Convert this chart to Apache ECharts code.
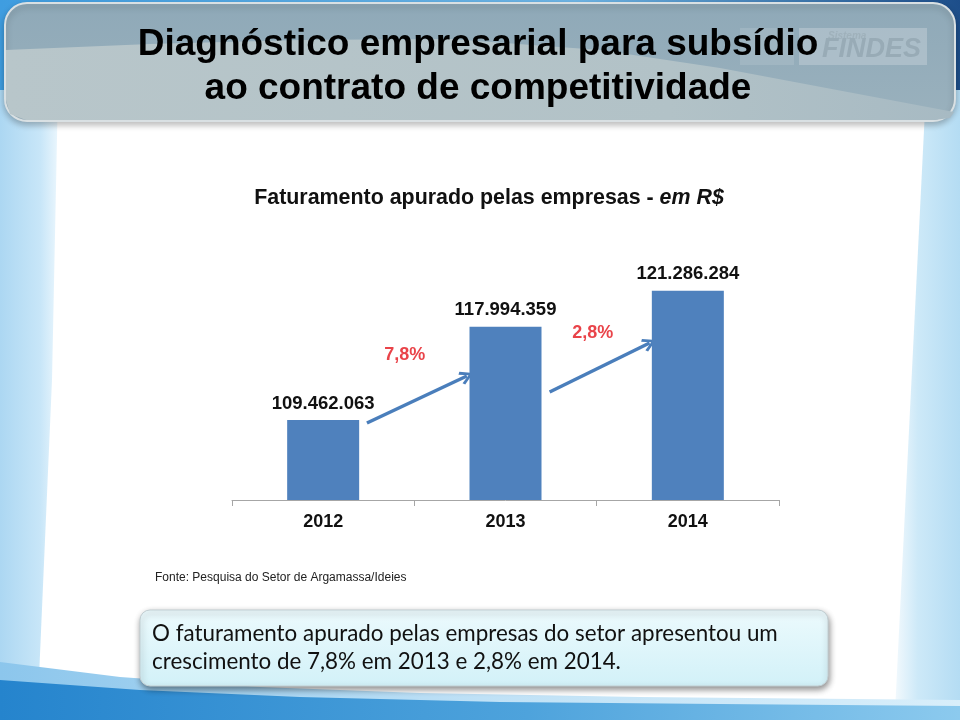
<!DOCTYPE html>
<html>
<head>
<meta charset="utf-8">
<script src="https://cdn.jsdelivr.net/npm/echarts@6/dist/echarts.min.js"></script>
<style>
html,body{margin:0;padding:0;background:#fff;}
#main{width:960px;height:720px;}
</style>
</head>
<body>
<div id="main"></div>
<script>
// ---- data ----
const categories = ['2012', '2013', '2014'];
const revenue = [109462063, 117994359, 121286284];
const growthLabels = ['7,8%', '2,8%'];
// annotation arrows (x in category units, y in R$)
const arrowStarts = [[0.24, 109180000], [1.242, 112020000]];
const arrowEnds = [[0.788, 113490000], [1.79, 116510000]];
const growthLabelPos = [[0.448, 115410000], [1.478, 117420000]];
const yMin = 102130000;
const yMax = 124110000;

const titleText = 'Diagnóstico empresarial para subsídio\nao contrato de competitividade';
const subtitleBold = 'Faturamento apurado pelas empresas - ';
const subtitleItalic = 'em R$';
const sourceText = 'Fonte: Pesquisa do Setor de Argamassa/Ideies';
const noteLines = ['O faturamento apurado pelas empresas do setor apresentou um',
                   'crescimento de 7,8% em 2013 e 2,8% em 2014.'];

function fmt(v) { return String(v).replace(/\B(?=(\d{3})+(?!\d))/g, '.'); }

const chart = echarts.init(document.getElementById('main'), null, {renderer: 'canvas'});

const LG = (x, y, x2, y2, stops) => new echarts.graphic.LinearGradient(x, y, x2, y2, stops);

const graphics = [
  // base
  {type: 'rect', z: -100, silent: true, shape: {x: 0, y: 0, width: 960, height: 720}, style: {fill: '#ffffff'}},
  // top band behind title
  {type: 'rect', z: -99, silent: true, shape: {x: 0, y: 0, width: 960, height: 100},
    style: {fill: LG(0, 0, 1, 0, [{offset: 0, color: '#3f9de0'}, {offset: 0.6, color: '#6fb6e6'}, {offset: 1, color: '#1d4e8a'}])}},
  // left strip
  {type: 'polygon', z: -98, silent: true, shape: {points: [[0, 90], [58, 90], [52, 380], [38, 700], [0, 700]]},
    style: {fill: LG(0, 0, 1, 0, [{offset: 0, color: '#acd7f2'}, {offset: 0.7, color: '#c8e6f8'}, {offset: 1, color: '#eaf6fd'}])}},
  // right strip
  {type: 'polygon', z: -98, silent: true, shape: {points: [[926, 90], [960, 90], [960, 712], [895, 712], [908, 450]]},
    style: {fill: LG(0, 0, 1, 0, [{offset: 0, color: '#f2f9fd'}, {offset: 0.35, color: '#cde9f8'}, {offset: 1, color: '#b4dcf3'}])}},
  // bottom light wave
  {type: 'polygon', z: -97, silent: true,
    shape: {points: [[0, 662], [120, 677], [260, 687], [420, 693], [640, 697], [960, 700], [960, 720], [0, 720]]},
    style: {fill: LG(0, 0, 1, 0, [{offset: 0, color: '#8cc6ec'}, {offset: 0.5, color: '#bfe1f6'}, {offset: 1, color: '#d8eefa'}])}},
  // bottom dark wave
  {type: 'polygon', z: -96, silent: true,
    shape: {points: [[0, 680], [140, 690], [300, 697], [500, 702], [720, 704], [960, 706], [960, 720], [0, 720]]},
    style: {fill: LG(0, 0, 1, 0, [{offset: 0, color: '#2584cd'}, {offset: 0.55, color: '#4ea3dc'}, {offset: 1, color: '#8ccaee'}])}},
  // title box
  {type: 'rect', z: -90, silent: true, shape: {x: 5, y: 3, width: 950, height: 118, r: 22},
    style: {fill: LG(0, 0, 0, 1, [{offset: 0, color: '#8fa9b8'}, {offset: 1, color: '#9ab1bd'}]),
      stroke: '#d9e0e3', lineWidth: 2, shadowBlur: 6, shadowOffsetY: 3, shadowColor: 'rgba(0,0,0,0.25)'}},
  // light swoosh inside title box
  {type: 'polygon', z: -89, silent: true,
    shape: {points: [[6, 50], [150, 44], [300, 40], [450, 39], [600, 50], [720, 68], [954, 112], [950, 118], [934, 120], [26, 120], [10, 114], [6, 100]]},
    style: {fill: LG(0, 0, 1, 0, [{offset: 0, color: '#b8c6ca'}, {offset: 0.7, color: '#b2c2c7'}, {offset: 1, color: '#a7bac3'}])}},
  // logo blocks
  {type: 'rect', z: -88, silent: true, shape: {x: 740, y: 28, width: 54, height: 37}, style: {fill: 'rgba(190,205,212,0.3)'}},
  {type: 'rect', z: -88, silent: true, shape: {x: 799, y: 28, width: 128, height: 37}, style: {fill: 'rgba(195,208,215,0.5)'}},
  {type: 'text', z: -87, silent: true, style: {x: 828, y: 36, text: 'Sistema', fill: '#9fb1bb', font: 'italic bold 10px "Liberation Sans"', textVerticalAlign: 'middle'}},
  {type: 'text', z: -87, silent: true, style: {x: 822, y: 50, text: 'FINDES', fill: '#98abb6', font: 'italic bold 27px "Liberation Sans"', textVerticalAlign: 'middle'}},
  // note box
  {type: 'rect', z: 10, silent: true, shape: {x: 140, y: 610, width: 688, height: 76, r: 10},
    style: {fill: LG(0, 0, 0, 1, [{offset: 0, color: '#ecfafd'}, {offset: 1, color: '#d2f1f8'}]),
      stroke: '#c2cfd3', lineWidth: 1, shadowBlur: 6, shadowOffsetX: 1, shadowOffsetY: 3, shadowColor: 'rgba(0,0,0,0.45)'}},
  {type: 'text', z: 11, silent: true, style: {x: 152, y: 634, text: noteLines[0], fill: '#111', font: '22.4px Lato', textVerticalAlign: 'middle'}},
  {type: 'text', z: 11, silent: true, style: {x: 152, y: 662, text: noteLines[1], fill: '#111', font: '22.4px Lato', textVerticalAlign: 'middle'}}
];

const option = {
  animation: false,
  title: [
    {text: titleText, left: 473, textAlign: 'center', top: 18,
      textStyle: {fontFamily: 'Liberation Sans', fontWeight: 'bold', fontSize: 37, lineHeight: 44, color: '#000'}},
    {text: '{b|' + subtitleBold + '}{i|' + subtitleItalic + '}', left: 484, textAlign: 'center', top: 183,
      textStyle: {rich: {
        b: {fontFamily: 'Liberation Sans', fontWeight: 'bold', fontSize: 21.4, color: '#111'},
        i: {fontFamily: 'Liberation Sans', fontStyle: 'italic', fontSize: 21.4, color: '#111'}}}},
    {text: sourceText, left: 150, top: 567,
      textStyle: {fontFamily: 'Liberation Sans', fontWeight: 'normal', fontSize: 12, color: '#222'}}
  ],
  grid: {left: 232, right: 181, top: 260, bottom: 220, containLabel: false},
  xAxis: [
    {type: 'category', data: categories,
      axisLine: {lineStyle: {color: '#a6a6a6', width: 1}},
      axisTick: {show: true, length: 6, lineStyle: {color: '#a6a6a6'}},
      axisLabel: {fontFamily: 'Liberation Sans', fontWeight: 'bold', fontSize: 18, color: '#111', margin: 13},
      splitLine: {show: false}},
    {type: 'value', min: -0.5, max: 2.5, show: false, position: 'bottom'}
  ],
  yAxis: {type: 'value', min: yMin, max: yMax, show: false, splitLine: {show: false}},
  series: [
    {type: 'bar', xAxisIndex: 0, data: revenue, barWidth: 72,
      itemStyle: {color: '#4f81bd'},
      label: {show: true, position: 'top', distance: 7, formatter: p => fmt(p.value),
        fontFamily: 'Liberation Sans', fontWeight: 'bold', fontSize: 18.5, color: '#111'}},
    {type: 'lines', coordinateSystem: 'cartesian2d', xAxisIndex: 1, yAxisIndex: 0, polyline: false,
      symbol: ['none', 'path://M5,0 L10,8 L8.4,9.3 L5,3.4 L1.6,9.3 L0,8 Z'], symbolSize: [16, 14],
      lineStyle: {color: '#4a7ebb', width: 3.5, opacity: 1, curveness: 0},
      data: arrowStarts.map((s, i) => ({coords: [s, arrowEnds[i]]}))},
    {type: 'scatter', xAxisIndex: 1, yAxisIndex: 0, symbolSize: 0,
      data: growthLabelPos.map((p, i) => ({value: p, name: growthLabels[i]})),
      label: {show: true, position: 'inside', formatter: p => p.name,
        fontFamily: 'Liberation Sans', fontWeight: 'bold', fontSize: 18, color: '#e3141b'}}
  ],
  graphic: graphics
};
chart.setOption(option);
</script>
</body>
</html>
